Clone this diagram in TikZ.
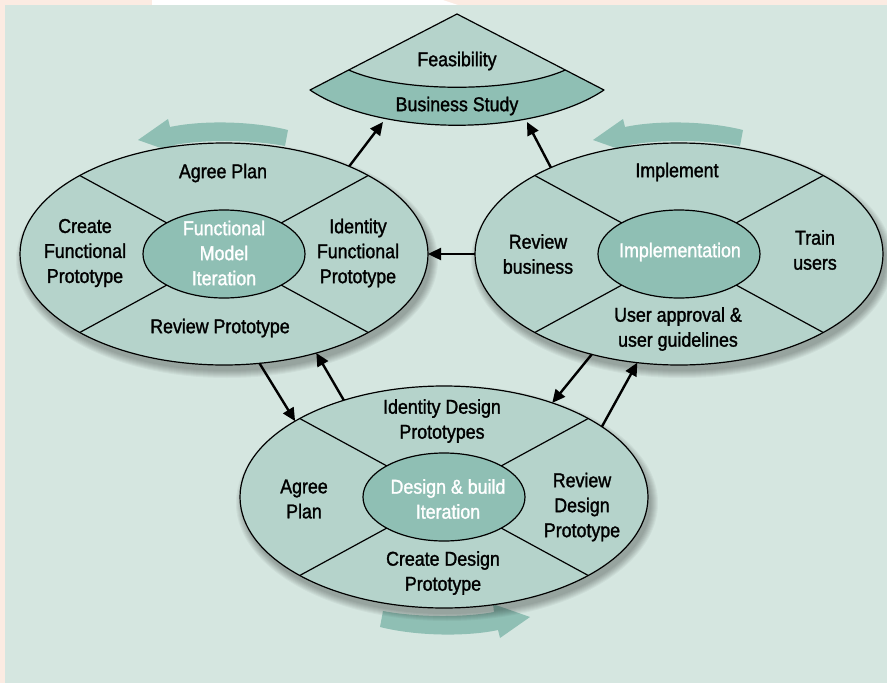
\documentclass[tikz,border=0pt]{standalone}
\usepackage{fontspec}
\setmainfont{Liberation Sans}[FakeStretch=0.89,FakeBold=1.4]
\usetikzlibrary{shapes.geometric,arrows.meta}
\definecolor{peach}{HTML}{FBEBE2}
\definecolor{panel}{HTML}{D5E6E0}
\definecolor{lightseg}{HTML}{B5D3CB}
\definecolor{darkseg}{HTML}{8FBFB4}
\begin{document}
\begin{tikzpicture}[x=1pt,y=-1pt,
  outell/.style={ellipse,draw=black,line width=1.2pt,fill=lightseg,minimum width=408pt,minimum height=222pt,inner sep=0pt,outer sep=0pt},
  inell/.style={ellipse,draw=black,line width=1.2pt,fill=darkseg,minimum width=162pt,minimum height=88pt,inner sep=0pt,outer sep=0pt},
  segline/.style={draw=black,line width=1.2pt},
  lbl/.style={align=center,font=\fontsize{20}{25}\selectfont,inner sep=0pt},
  wlbl/.style={lbl,text=white},
  conn/.style={line width=2.4pt,-{Triangle[length=13pt,width=12pt]}},
  ring/.pic={
    \foreach \k in {1,...,8} \fill[black,opacity=0.04] (3,6) ellipse [x radius={203pt+\k*1pt}, y radius={110pt+\k*1pt}];
    \node[outell] (-out) at (0,0) {};
    \foreach \a in {45,135,225,315} \draw[segline] ({81*cos(\a)},{44*sin(\a)}) -- ({204*cos(\a)},{111*sin(\a)});
    \node[inell] (-in) at (0,0) {};
  },
  bigarrow/.pic={
    \fill[darkseg] (64,-124) .. controls (26,-133.5) and (-24,-133.5) .. (-54,-127)
      -- (-56,-135) -- (-86,-114) -- (-49,-101) -- (-50,-109)
      .. controls (-20,-114.5) and (26,-114.5) .. (61,-108) -- cycle;
  }
]
\useasboundingbox (0,0) rectangle (887,683);
% background
\fill[peach] (0,0) rectangle (887,683);
\fill[white] (152,0) -- (443,0) -- (458,5) -- (152,5) -- cycle;
\fill[panel] (5,5) rectangle (887,683);

% circulation arrows
\pic at (224,254) {bigarrow};
\pic at (679,254) {bigarrow};
\pic[rotate=180] at (444,503) {bigarrow};

% rings
\pic (F) at (224,254) {ring};
\pic (I) at (679,254) {ring};
\pic (D) at (444,497) {ring};

% wedge
\fill[lightseg] (457,14) -- (348.7,70) .. controls (400,93) and (514,93) .. (565.3,70) -- cycle;
\fill[darkseg] (348.7,70) -- (310,90) .. controls (380,137) and (534,137) .. (604,90) -- (565.3,70)
   .. controls (514,93) and (400,93) .. (348.7,70) -- cycle;
\draw[line width=1.2pt,line join=round] (457,14) -- (310,90) .. controls (380,137) and (534,137) .. (604,90) -- cycle;
\draw[line width=1.2pt] (348.7,70) .. controls (400,93) and (514,93) .. (565.3,70);
\node[lbl] (feas) at (457,61) {Feasibility};
\node[lbl] (bstudy) at (457,106) {Business Study};
\coordinate (bsl) at (383,122);
\coordinate (bsr) at (527,122);

% labels functional
\node[lbl] (fap) at (223,173) {Agree Plan};
\node[lbl] (fcf) at (85,253) {Create\\Functional\\Prototype};
\node[lbl] (fif) at (358,253) {Identity\\Functional\\Prototype};
\node[lbl] (frp) at (220,328) {Review Prototype};
\node[wlbl] (fmi) at (224,253) {Functional\\Model\\Iteration};
% labels implementation
\node[lbl] (iim) at (677,172) {Implement};
\node[lbl] (irb) at (538,254) {Review\\business};
\node[lbl] (itu) at (815,250) {Train\\users};
\node[wlbl] (iin) at (680,252) {Implementation};
\node[lbl] (iua) at (678,329) {User approval \&\\user guidelines};
% labels design
\node[lbl] (did) at (442,421) {Identity Design\\Prototypes};
\node[lbl] (dap) at (304,499) {Agree\\Plan};
\node[wlbl] (ddb) at (448,499) {Design \& build\\Iteration};
\node[lbl] (drd) at (582,507) {Review\\Design\\Prototype};
\node[lbl] (dcd) at (443,573) {Create Design\\Prototype};

% connectors
\draw[conn] (F-out.35) -- (bsl);
\draw[conn] (I-out.146) -- (bsr);
\draw[conn] (I-out.west) -- (F-out.east);
\draw[conn] (F-out.-72) -- (D-out.153.7);
\draw[conn] (D-out.136.4) -- (F-out.-47);
\draw[conn] (I-out.229.7) -- (D-out.41.2);
\draw[conn] (D-out.24.4) -- (I-out.249.6);
\end{tikzpicture}
\end{document}
